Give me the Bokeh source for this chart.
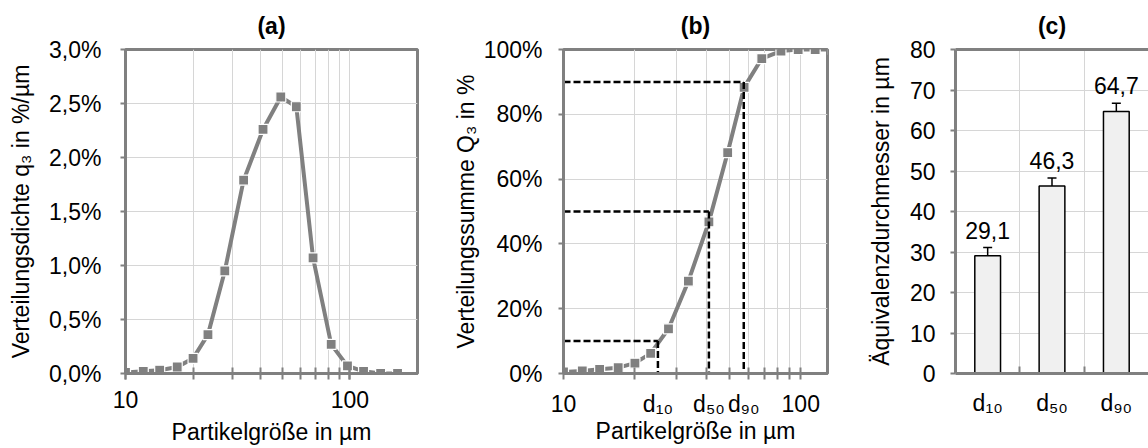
from bokeh.plotting import figure
from bokeh.layouts import row
from bokeh.models import (FixedTicker, CustomJSTickFormatter, Range1d, LinearAxis,
                          Whisker, TeeHead, ColumnDataSource, LabelSet)
from bokeh.core.properties import value
from bokeh.embed import file_html
from bokeh.resources import INLINE

# ---------------- data ----------------
size_um = [10, 12, 14.2, 17, 20, 23.3, 27.7, 33.6, 41, 49.2, 57.7, 68.5, 82.5, 97.5, 115, 137, 163]
q3_pct_per_um = [0.01, 0.02, 0.03, 0.06, 0.14, 0.36, 0.95, 1.79, 2.26, 2.56, 2.47, 1.07, 0.27, 0.07, 0.02, 0.0, 0.0]
Q3_pct = [0.5, 0.8, 1.3, 1.8, 3.2, 6.2, 13.8, 28.5, 46.8, 68.2, 88.3, 97.2, 99.5, 100, 100, 100, 100]

d_levels_pct = [10, 50, 90]
d_marker_um = [25, 41, 57.5]
d_labels = ["d₁₀", "d₅₀", "d₉₀"]

bar_categories = ["d₁₀", "d₅₀", "d₉₀"]
bar_values = [29.1, 46.3, 64.7]
bar_errors = [2.0, 2.0, 2.0]

log_grid_um = [10, 20, 30, 40, 50, 60, 70, 80, 90, 100]
log_label_um = [10, 100]
q3_ticks = [0, 0.5, 1.0, 1.5, 2.0, 2.5, 3.0]
Q3_ticks = [0, 20, 40, 60, 80, 100]
c_ticks = [0, 10, 20, 30, 40, 50, 60, 70, 80]

FONT = "Liberation Sans"
GRAY = "#808080"
GRID = "#d6d6d6"
FS = "23px"
TOP = 49
BOTTOM = 75


def style(p):
    p.background_fill_color = "white"
    p.border_fill_color = "white"
    p.outline_line_color = GRAY
    p.outline_line_width = 3
    p.title.text_font = FONT
    p.title.text_font_size = FS
    p.title.text_font_style = "bold"
    p.title.text_color = "black"
    p.title.align = "center"
    p.title.standoff = 21
    for ax in p.axis:
        ax.axis_line_color = GRAY
        ax.axis_line_width = 3
        ax.major_tick_line_color = GRAY
        ax.major_tick_line_width = 2
        ax.minor_tick_line_color = GRAY
        ax.minor_tick_line_width = 2
        ax.major_label_text_font = FONT
        ax.major_label_text_font_size = FS
        ax.major_label_text_color = "black"
        ax.axis_label_text_font = FONT
        ax.axis_label_text_font_size = FS
        ax.axis_label_text_font_style = "normal"
        ax.axis_label_text_color = "black"
    p.grid.grid_line_color = GRID
    p.grid.grid_line_width = 1


# ---------------- panel (a) ----------------
pa = figure(width=432, height=448, x_axis_type="log",
            x_range=Range1d(10, 200), y_range=Range1d(0, 3.0),
            title="(a)", output_backend="svg", toolbar_location=None,
            min_border_left=125, min_border_right=15,
            min_border_top=TOP, min_border_bottom=BOTTOM)
style(pa)
pa.line(size_um, q3_pct_per_um, line_color=GRAY, line_width=4)
pa.scatter(size_um, q3_pct_per_um, marker="square", size=10,
           fill_color=GRAY, line_color="white", line_width=1.2)
pa.xaxis.ticker = FixedTicker(ticks=log_label_um, minor_ticks=log_grid_um)
pa.xaxis.major_label_overrides = {v: str(v) for v in log_label_um}
pa.xaxis.major_tick_in = 6
pa.xaxis.major_tick_out = 6
pa.xaxis.minor_tick_in = 6
pa.xaxis.minor_tick_out = 6
pa.xaxis.major_label_standoff = 11
pa.xaxis.axis_label = "Partikelgröße in µm"
pa.xaxis.axis_label_standoff = 8
pa.xgrid.ticker = FixedTicker(ticks=log_grid_um)
pa.yaxis.ticker = FixedTicker(ticks=q3_ticks)
pa.yaxis.formatter = CustomJSTickFormatter(code="return tick.toFixed(1).replace('.', ',') + '%';")
pa.yaxis.major_tick_in = 0
pa.yaxis.major_tick_out = 5
pa.yaxis.major_label_standoff = 19
pa.yaxis.axis_label = "Verteilungsdichte q₃ in %/µm"
pa.yaxis.axis_label_standoff = 12

# ---------------- panel (b) ----------------
pb = figure(width=408, height=448, x_axis_type="log",
            x_range=Range1d(10, 129.6), y_range=Range1d(0, 100),
            title="(b)", output_backend="svg", toolbar_location=None,
            min_border_left=131, min_border_right=13,
            min_border_top=TOP, min_border_bottom=BOTTOM)
style(pb)
pb.line(size_um, Q3_pct, line_color=GRAY, line_width=4)
pb.scatter(size_um, Q3_pct, marker="square", size=10,
           fill_color=GRAY, line_color="white", line_width=1.2)
x_min_b = pb.x_range.start
pb.segment(x0=[x_min_b] * len(d_levels_pct), y0=d_levels_pct,
           x1=d_marker_um, y1=d_levels_pct,
           line_color="black", line_width=2.5, line_dash="7 3")
pb.segment(x0=d_marker_um, y0=d_levels_pct,
           x1=d_marker_um, y1=[0] * len(d_levels_pct),
           line_color="black", line_width=2.5, line_dash="7 3")
b_ticks = [log_label_um[0]] + d_marker_um + [log_label_um[1]]
b_labels = [str(log_label_um[0])] + d_labels + [str(log_label_um[1])]
pb.xaxis.ticker = FixedTicker(ticks=b_ticks, minor_ticks=log_grid_um)
pb.xaxis.major_label_overrides = dict(zip(b_ticks, b_labels))
pb.xaxis.major_tick_in = 0
pb.xaxis.major_tick_out = 0
pb.xaxis.minor_tick_in = 6
pb.xaxis.minor_tick_out = 6
pb.xaxis.major_label_standoff = 11
pb.xaxis.axis_label = "Partikelgröße in µm"
pb.xaxis.axis_label_standoff = -2
pb.xgrid.ticker = FixedTicker(ticks=log_grid_um)
pb.yaxis.ticker = FixedTicker(ticks=Q3_ticks)
pb.yaxis.formatter = CustomJSTickFormatter(code="return tick.toFixed(0) + '%';")
pb.yaxis.major_tick_in = 0
pb.yaxis.major_tick_out = 5
pb.yaxis.major_label_standoff = 16
pb.yaxis.axis_label = "Verteilungssumme Q₃ in %"
pb.yaxis.axis_label_standoff = 2

# ---------------- panel (c) ----------------
n = len(bar_categories)
xc = [i + 0.5 for i in range(n)]
bounds = [i for i in range(1, n)]
src = ColumnDataSource(dict(
    x=xc, top=bar_values,
    upper=[v + e for v, e in zip(bar_values, bar_errors)],
    lower=[v - e for v, e in zip(bar_values, bar_errors)],
    label=[f"{v:.1f}".replace(".", ",") for v in bar_values],
))
pc = figure(width=308, height=448, x_range=Range1d(0, n), y_range=Range1d(0, 80),
            title="(c)", output_backend="svg", toolbar_location=None,
            min_border_left=115, min_border_right=0,
            min_border_top=TOP, min_border_bottom=BOTTOM)
top_ax = LinearAxis(ticker=FixedTicker(ticks=[]))
pc.add_layout(top_ax, "above")
style(pc)
top_ax.major_tick_in = 0
top_ax.major_tick_out = 0
top_ax.minor_tick_in = 0
top_ax.minor_tick_out = 0
top_ax.major_label_standoff = 0
pc.outline_line_color = None
pc.vbar(x="x", top="top", bottom=0, width=0.4, source=src,
        fill_color="#f0f0f0", line_color="black", line_width=1.5)
pc.add_layout(Whisker(base="x", upper="upper", lower="lower", source=src,
                      line_color="black", line_width=1.5,
                      upper_head=TeeHead(size=9, line_color="black", line_width=1.5),
                      lower_head=TeeHead(size=9, line_color="black", line_width=1.5)))
pc.add_layout(LabelSet(x="x", y="upper", text="label", source=src,
                       y_offset=9, text_align="center", text_baseline="bottom",
                       text_font=value(FONT), text_font_size=FS, text_color="black"))
bax = pc.below[0]
bax.ticker = FixedTicker(ticks=xc, minor_ticks=bounds)
bax.major_label_overrides = dict(zip(xc, bar_categories))
bax.major_tick_in = 0
bax.major_tick_out = 0
bax.minor_tick_in = 7
bax.minor_tick_out = 0
bax.major_label_standoff = 16
pc.xgrid.ticker = FixedTicker(ticks=bounds)
pc.yaxis.ticker = FixedTicker(ticks=c_ticks)
pc.yaxis.major_tick_in = 0
pc.yaxis.major_tick_out = 5
pc.yaxis.major_label_standoff = 15
pc.yaxis.axis_label = "Äquivalenzdurchmesser in µm"
pc.yaxis.axis_label_standoff = 13

layout = row(pa, pb, pc)
open("out.html", "w").write(file_html(layout, INLINE))
